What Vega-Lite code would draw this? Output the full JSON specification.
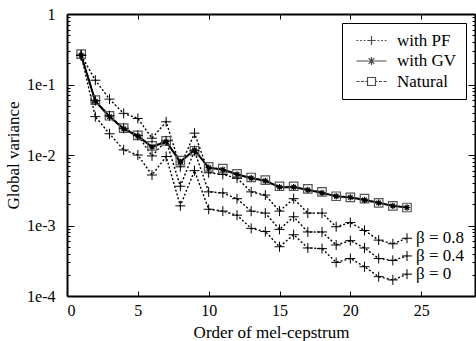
{
  "$schema": "https://vega.github.io/schema/vega-lite/v6.json",
  "width": 408,
  "height": 282,
  "autosize": {"type": "none"},
  "padding": {"left": 67, "top": 14, "right": 1, "bottom": 45},
  "background": "white",
  "view": {"stroke": null},
  "config": {
    "font": "Liberation Serif",
    "axis": {"domainColor": "black", "domainWidth": 2, "tickColor": "black", "tickWidth": 1, "labelFont": "Liberation Serif", "labelFontSize": 16, "labelColor": "black", "titleFont": "Liberation Serif", "titleFontSize": 17, "titleFontWeight": "normal", "titleColor": "black", "grid": false}
  },
  "datasets": {
    "gv": [
      {"x":1,"v":0.27,"s":"Natural","c":"N"},{"x":2,"v":0.060,"s":"Natural","c":"N"},{"x":3,"v":0.036,"s":"Natural","c":"N"},{"x":4,"v":0.024,"s":"Natural","c":"N"},{"x":5,"v":0.019,"s":"Natural","c":"N"},{"x":6,"v":0.0135,"s":"Natural","c":"N"},{"x":7,"v":0.0159,"s":"Natural","c":"N"},{"x":8,"v":0.0083,"s":"Natural","c":"N"},{"x":9,"v":0.0115,"s":"Natural","c":"N"},{"x":10,"v":0.0068,"s":"Natural","c":"N"},{"x":11,"v":0.0064,"s":"Natural","c":"N"},{"x":12,"v":0.0054,"s":"Natural","c":"N"},{"x":13,"v":0.0048,"s":"Natural","c":"N"},{"x":14,"v":0.0044,"s":"Natural","c":"N"},{"x":15,"v":0.0036,"s":"Natural","c":"N"},{"x":16,"v":0.0036,"s":"Natural","c":"N"},{"x":17,"v":0.0033,"s":"Natural","c":"N"},{"x":18,"v":0.0030,"s":"Natural","c":"N"},{"x":19,"v":0.0026,"s":"Natural","c":"N"},{"x":20,"v":0.0025,"s":"Natural","c":"N"},{"x":21,"v":0.0024,"s":"Natural","c":"N"},{"x":22,"v":0.0021,"s":"Natural","c":"N"},{"x":23,"v":0.0019,"s":"Natural","c":"N"},{"x":24,"v":0.0018,"s":"Natural","c":"N"},
      {"x":1,"v":0.26,"s":"with PF","c":"P8"},{"x":2,"v":0.115,"s":"with PF","c":"P8"},{"x":3,"v":0.062,"s":"with PF","c":"P8"},{"x":4,"v":0.039,"s":"with PF","c":"P8"},{"x":5,"v":0.033,"s":"with PF","c":"P8"},{"x":6,"v":0.0173,"s":"with PF","c":"P8"},{"x":7,"v":0.0296,"s":"with PF","c":"P8"},{"x":8,"v":0.0068,"s":"with PF","c":"P8"},{"x":9,"v":0.0204,"s":"with PF","c":"P8"},{"x":10,"v":0.0056,"s":"with PF","c":"P8"},{"x":11,"v":0.0053,"s":"with PF","c":"P8"},{"x":12,"v":0.0047,"s":"with PF","c":"P8"},{"x":13,"v":0.0030,"s":"with PF","c":"P8"},{"x":14,"v":0.0027,"s":"with PF","c":"P8"},{"x":15,"v":0.0016,"s":"with PF","c":"P8"},{"x":16,"v":0.0024,"s":"with PF","c":"P8"},{"x":17,"v":0.0015,"s":"with PF","c":"P8"},{"x":18,"v":0.0015,"s":"with PF","c":"P8"},{"x":19,"v":0.00096,"s":"with PF","c":"P8"},{"x":20,"v":0.0011,"s":"with PF","c":"P8"},{"x":21,"v":0.00085,"s":"with PF","c":"P8"},{"x":22,"v":0.00062,"s":"with PF","c":"P8"},{"x":23,"v":0.00055,"s":"with PF","c":"P8"},{"x":24,"v":0.00066,"s":"with PF","c":"P8"},
      {"x":1,"v":0.26,"s":"with PF","c":"P4"},{"x":2,"v":0.059,"s":"with PF","c":"P4"},{"x":3,"v":0.036,"s":"with PF","c":"P4"},{"x":4,"v":0.024,"s":"with PF","c":"P4"},{"x":5,"v":0.019,"s":"with PF","c":"P4"},{"x":6,"v":0.0097,"s":"with PF","c":"P4"},{"x":7,"v":0.0159,"s":"with PF","c":"P4"},{"x":8,"v":0.0036,"s":"with PF","c":"P4"},{"x":9,"v":0.0115,"s":"with PF","c":"P4"},{"x":10,"v":0.0030,"s":"with PF","c":"P4"},{"x":11,"v":0.0029,"s":"with PF","c":"P4"},{"x":12,"v":0.0024,"s":"with PF","c":"P4"},{"x":13,"v":0.0016,"s":"with PF","c":"P4"},{"x":14,"v":0.0015,"s":"with PF","c":"P4"},{"x":15,"v":0.00088,"s":"with PF","c":"P4"},{"x":16,"v":0.00133,"s":"with PF","c":"P4"},{"x":17,"v":0.00081,"s":"with PF","c":"P4"},{"x":18,"v":0.00081,"s":"with PF","c":"P4"},{"x":19,"v":0.00053,"s":"with PF","c":"P4"},{"x":20,"v":0.00061,"s":"with PF","c":"P4"},{"x":21,"v":0.00048,"s":"with PF","c":"P4"},{"x":22,"v":0.00034,"s":"with PF","c":"P4"},{"x":23,"v":0.00032,"s":"with PF","c":"P4"},{"x":24,"v":0.00037,"s":"with PF","c":"P4"},
      {"x":1,"v":0.26,"s":"with PF","c":"P0"},{"x":2,"v":0.035,"s":"with PF","c":"P0"},{"x":3,"v":0.020,"s":"with PF","c":"P0"},{"x":4,"v":0.0118,"s":"with PF","c":"P0"},{"x":5,"v":0.0100,"s":"with PF","c":"P0"},{"x":6,"v":0.0052,"s":"with PF","c":"P0"},{"x":7,"v":0.0095,"s":"with PF","c":"P0"},{"x":8,"v":0.0019,"s":"with PF","c":"P0"},{"x":9,"v":0.0060,"s":"with PF","c":"P0"},{"x":10,"v":0.0017,"s":"with PF","c":"P0"},{"x":11,"v":0.0016,"s":"with PF","c":"P0"},{"x":12,"v":0.0014,"s":"with PF","c":"P0"},{"x":13,"v":0.00091,"s":"with PF","c":"P0"},{"x":14,"v":0.00082,"s":"with PF","c":"P0"},{"x":15,"v":0.00050,"s":"with PF","c":"P0"},{"x":16,"v":0.00074,"s":"with PF","c":"P0"},{"x":17,"v":0.00048,"s":"with PF","c":"P0"},{"x":18,"v":0.00047,"s":"with PF","c":"P0"},{"x":19,"v":0.00030,"s":"with PF","c":"P0"},{"x":20,"v":0.00034,"s":"with PF","c":"P0"},{"x":21,"v":0.00026,"s":"with PF","c":"P0"},{"x":22,"v":0.000188,"s":"with PF","c":"P0"},{"x":23,"v":0.000169,"s":"with PF","c":"P0"},{"x":24,"v":0.000204,"s":"with PF","c":"P0"},
      {"x":1,"v":0.26,"s":"with GV","c":"G"},{"x":2,"v":0.058,"s":"with GV","c":"G"},{"x":3,"v":0.035,"s":"with GV","c":"G"},{"x":4,"v":0.0235,"s":"with GV","c":"G"},{"x":5,"v":0.0185,"s":"with GV","c":"G"},{"x":6,"v":0.013,"s":"with GV","c":"G"},{"x":7,"v":0.0155,"s":"with GV","c":"G"},{"x":8,"v":0.0080,"s":"with GV","c":"G"},{"x":9,"v":0.0118,"s":"with GV","c":"G"},{"x":10,"v":0.0066,"s":"with GV","c":"G"},{"x":11,"v":0.0062,"s":"with GV","c":"G"},{"x":12,"v":0.0053,"s":"with GV","c":"G"},{"x":13,"v":0.0047,"s":"with GV","c":"G"},{"x":14,"v":0.0043,"s":"with GV","c":"G"},{"x":15,"v":0.0035,"s":"with GV","c":"G"},{"x":16,"v":0.0035,"s":"with GV","c":"G"},{"x":17,"v":0.0032,"s":"with GV","c":"G"},{"x":18,"v":0.0029,"s":"with GV","c":"G"},{"x":19,"v":0.0026,"s":"with GV","c":"G"},{"x":20,"v":0.0025,"s":"with GV","c":"G"},{"x":21,"v":0.0023,"s":"with GV","c":"G"},{"x":22,"v":0.0021,"s":"with GV","c":"G"},{"x":23,"v":0.0019,"s":"with GV","c":"G"},{"x":24,"v":0.0018,"s":"with GV","c":"G"}
    ],
    "labels": [
      {"x":24,"v":0.00066,"label":"β = 0.8"},
      {"x":24,"v":0.00037,"label":"β = 0.4"},
      {"x":24,"v":0.000204,"label":"β = 0"}
    ]
  },
  "data": {"name": "gv"},
  "resolve": {"axis": {"x": "independent", "y": "independent"}},
  "layer": [
    {
      "mark": {"type": "line", "interpolate": "linear"},
      "encoding": {
        "x": {"field": "x", "type": "quantitative", "scale": {"domain": [0, 28.8], "nice": false, "zero": false},
              "axis": {"orient": "bottom", "values": [0,5,10,15,20,25], "format": "d", "tickSize": -5, "labelPadding": 11, "title": "Order of mel-cepstrum", "titlePadding": 6}},
        "y": {"field": "v", "type": "quantitative", "scale": {"type": "log", "domain": [0.0001, 1], "nice": false},
              "axis": {"orient": "left", "values": [0.0001,0.001,0.01,0.1,1], "tickSize": -7, "labelPadding": 19, "labelExpr": "datum.value >= 1 ? '1' : '1e-' + round(-log(datum.value)/LN10)", "title": "Global variance", "titlePadding": 4}},
        "detail": {"field": "c", "type": "nominal"},
        "color": {"condition": {"test": "datum.s === 'Natural'", "value": "#555555"}, "value": "black"},
        "strokeDash": {"condition": [{"test": "datum.s === 'with PF'", "value": [2, 2]}, {"test": "datum.s === 'Natural'", "value": [5, 2, 1, 2]}], "value": [1, 0]},
        "strokeWidth": {"condition": [{"test": "datum.s === 'with PF'", "value": 1.4}, {"test": "datum.s === 'Natural'", "value": 1}], "value": 2}
      }
    },
    {
      "transform": [{"filter": "datum.s === 'Natural'"}],
      "mark": {"type": "point", "filled": false, "strokeWidth": 1.2, "opacity": 1, "shape": "M-1,-1H1V1H-1Z"},
      "encoding": {
        "x": {"field": "x", "type": "quantitative", "axis": {"orient": "top", "values": [0,5,10,15,20,25], "tickSize": -5, "labels": false, "title": null}},
        "y": {"field": "v", "type": "quantitative", "axis": {"orient": "right", "values": [0.0001,0.001,0.01,0.1,1], "tickSize": -7, "labels": false, "title": null}},
        "color": {"value": "#555555"},
        "size": {"value": 72}
      }
    },
    {
      "transform": [{"filter": "datum.s !== 'Natural'"}],
      "mark": {"type": "point", "filled": false, "opacity": 1},
      "encoding": {
        "x": {"field": "x", "type": "quantitative", "axis": null},
        "y": {"field": "v", "type": "quantitative", "axis": {"orient": "right", "values": [0.0002,0.0003,0.0004,0.0005,0.0006,0.0007,0.0008,0.0009,0.002,0.003,0.004,0.005,0.006,0.007,0.008,0.009,0.02,0.03,0.04,0.05,0.06,0.07,0.08,0.09,0.2,0.3,0.4,0.5,0.6,0.7,0.8,0.9], "tickSize": -3, "labels": false, "domain": false, "title": null}},
        "shape": {"condition": {"test": "datum.s === 'with GV'", "value": "M-1,0H1M0,-1V1M-0.7,-0.7L0.7,0.7M-0.7,0.7L0.7,-0.7"}, "value": "M-1,0H1M0,-1V1"},
        "color": {"value": "black"},
        "strokeWidth": {"condition": {"test": "datum.s === 'with PF'", "value": 1}, "value": 1.2},
        "size": {"condition": {"test": "datum.s === 'with PF'", "value": 100}, "value": 40}
      }
    },
    {
      "data": {"name": "labels"},
      "mark": {"type": "text", "align": "left", "baseline": "middle", "dx": 9, "font": "Liberation Serif", "fontSize": 17, "color": "black"},
      "encoding": {
        "x": {"field": "x", "type": "quantitative", "axis": null},
        "y": {"field": "v", "type": "quantitative", "axis": {"orient": "left", "values": [0.0002,0.0003,0.0004,0.0005,0.0006,0.0007,0.0008,0.0009,0.002,0.003,0.004,0.005,0.006,0.007,0.008,0.009,0.02,0.03,0.04,0.05,0.06,0.07,0.08,0.09,0.2,0.3,0.4,0.5,0.6,0.7,0.8,0.9], "tickSize": -3, "labels": false, "domain": false, "title": null}},
        "text": {"field": "label"}
      }
    },
    {
      "mark": {"type": "point", "filled": false, "strokeWidth": 1.2},
      "encoding": {
        "x": {"field": "x", "type": "quantitative", "axis": null},
        "y": {"field": "v", "type": "quantitative", "axis": null},
        "color": {"value": "black"},
        "size": {"value": 0},
        "shape": {"field": "s", "type": "nominal",
                  "scale": {"domain": ["with PF", "with GV", "Natural"], "range": [
                    "M-3,0h0.36M-2.28,0h0.36M-1.56,0h0.36M-0.84,0h0.36M0.48,0h0.36M1.2,0h0.36M1.92,0h0.36M2.64,0h0.36M0,-0.9V0.9M-0.7,0H0.7",
                    "M-3,0H3M0,-0.8V0.8M-0.8,0H0.8M-0.57,-0.57L0.57,0.57M-0.57,0.57L0.57,-0.57",
                    "M-3,0H-2.4M-2.1,0H-1.5M-1.2,0H-0.8M0.8,0H1.2M1.5,0H2.1M2.4,0H3M-0.8,-0.8H0.8V0.8H-0.8Z"]},
                  "legend": {"title": null, "orient": "top-right", "offset": 9, "strokeColor": "black", "padding": 9, "labelFont": "Liberation Serif", "labelFontSize": 17, "labelColor": "black", "symbolSize": 100, "symbolStrokeWidth": 1.2, "symbolStrokeColor": "black", "symbolFillColor": "transparent", "labelOffset": 17, "rowPadding": 2.5, "symbolOffset": 12}}
      }
    }
  ]
}
